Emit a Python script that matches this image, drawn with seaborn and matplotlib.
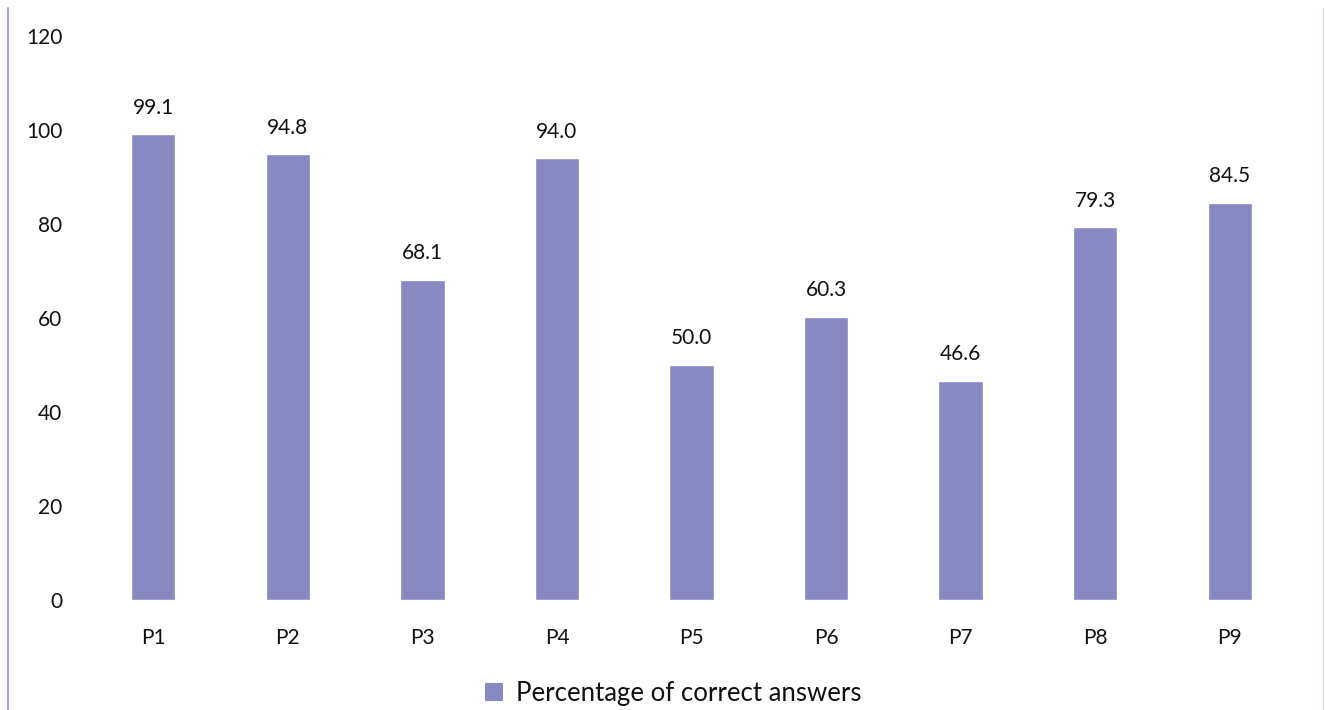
import pandas as pd
import seaborn as sns
import matplotlib.pyplot as plt
from matplotlib.lines import Line2D
from matplotlib.patches import Patch

# dados
perguntas = ['P1', 'P2', 'P3', 'P4', 'P5', 'P6', 'P7', 'P8', 'P9']
percentuais = [99.1, 94.8, 68.1, 94.0, 50.0, 60.3, 46.6, 79.3, 84.5]
yticks = [0, 20, 40, 60, 80, 100, 120]

df = pd.DataFrame({'Pergunta': perguntas, 'Percentual': percentuais})

sns.set_style('white')
plt.rcParams['font.family'] = ['Lato', 'DejaVu Sans']

cor_barra = '#8888c2'
cor_texto = '#111111'

fig = plt.figure(figsize=(13.25, 7.1), dpi=100)
ax = fig.add_axes([86 / 1325, 1 - 600 / 710, (1297 - 86) / 1325, (600 - 36) / 710])

sns.barplot(data=df, x='Pergunta', y='Percentual', color=cor_barra, width=0.33,
            saturation=1, ax=ax)

for i, v in enumerate(percentuais):
    ax.annotate(f'{v:.1f}', (i, v), xytext=(0, 12), textcoords='offset points',
                ha='center', va='bottom', fontsize=15, color=cor_texto)

ax.set_ylim(0, 120)
ax.set_xlim(-0.5, 8.5)
ax.set_yticks(yticks)
ax.tick_params(axis='both', length=0, labelsize=15, colors=cor_texto)
ax.tick_params(axis='y', pad=17)
ax.tick_params(axis='x', pad=20)
ax.set_xlabel('')
ax.set_ylabel('')
for s in ax.spines.values():
    s.set_visible(False)

# bordas do quadro
fig.add_artist(Line2D([8 / 1325, 8 / 1325], [0, 1 - 8 / 710], color='#a8a8dc', lw=1.5))
fig.add_artist(Line2D([1323 / 1325, 1323 / 1325], [0, 1 - 8 / 710], color='#d8d8ee', lw=1))

handles = [Patch(facecolor=cor_barra, edgecolor='none')]
fig.legend(handles, ['Percentage of correct answers'], loc='center',
           bbox_to_anchor=(673 / 1325, 1 - 693 / 710), frameon=False, fontsize=18.5,
           handlelength=0.7, handleheight=0.7, handletextpad=0.5,
           labelcolor=cor_texto)

fig.savefig('out.png', dpi=100)
